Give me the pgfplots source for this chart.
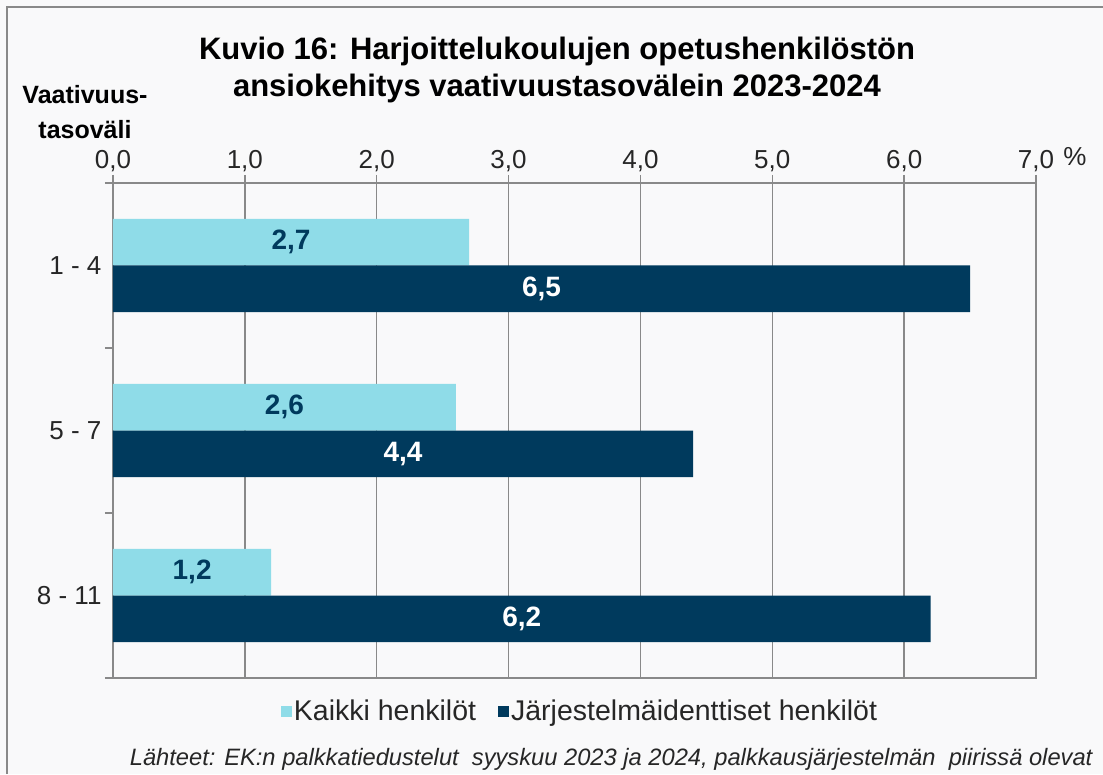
\documentclass[border=0pt]{standalone}
\usepackage{fontspec}
\setmainfont{Liberation Sans}
\usepackage{pgfplots}
\pgfplotsset{compat=1.18}
\definecolor{kaikki}{RGB}{143,220,232}
\definecolor{jarj}{RGB}{0,58,93}
\definecolor{gridc}{RGB}{137,137,137}
\definecolor{bgc}{RGB}{249,249,250}

\begin{document}
\begin{tikzpicture}
\fill[bgc] (-113pt,-96pt) rectangle (990pt,678pt);
\path[use as bounding box] (-113pt,-96pt) rectangle (990pt,678pt);
\draw[gridc, line width=2pt] (-106pt,-96pt) -- (-106pt,671pt) -- (990pt,671pt);
\begin{axis}[
    at={(0pt,0pt)}, anchor=south west,
    scale only axis, width=923pt, height=495pt,
    xbar, bar width=0.282,
    xmin=0, xmax=7, ymin=0, ymax=3,
    xtick={0,1,2,3,4,5,6,7},
    xticklabels={{0,0},{1,0},{2,0},{3,0},{4,0},{5,0},{6,0},{7,0}},
    xtick pos=right, xticklabel pos=right,
    ytick={0,1,2,3}, yticklabels={,,,},
    ytick pos=left,
    extra y ticks={0.5,1.5,2.5},
    extra y tick labels={8 - 11,5 - 7,1 - 4},
    extra y tick style={tick style={draw=none}},
    tick align=outside, major tick length=8pt,
    xmajorgrids, grid style={gridc, line width=1.5pt},
    axis line style={gridc, line width=1.5pt},
    tick style={gridc, line width=1.5pt},
    ticklabel style={font=\fontsize{26}{30}\selectfont, text=black!85},
    point meta=x,
    visualization depends on=rawx \as \rawx,
    nodes near coords={\pgfmathprintnumber[fixed,fixed zerofill,precision=1,use comma,assume math mode=true]{\pgfplotspointmeta}},
    nodes near coords style={anchor=center, font=\bfseries\fontsize{28}{32}\selectfont,
        shift={(axis direction cs:-\rawx/2,0)}},
    legend columns=2,
    legend style={at={(0.506,-0.067)}, anchor=center, draw=none, fill=none,
        font=\fontsize{28.5}{32}\selectfont, text=black!85,
        /tikz/every even column/.append style={column sep=20pt}},
    legend image code/.code={\fill[#1, draw=none] (0pt,-5.5pt) rectangle (11pt,5.5pt);},
]
\addplot[fill=kaikki, draw=none, bar shift=0.141,
    every node near coord/.append style={text=jarj}]
    coordinates {(2.7,2.5) (2.6,1.5) (1.2,0.5)};
\addlegendentry{Kaikki henkilöt}
\addplot[fill=jarj, draw=none, bar shift=-0.141,
    every node near coord/.append style={text=white}]
    coordinates {(6.5,2.5) (4.4,1.5) (6.2,0.5)};
\addlegendentry{Järjestelmäidenttiset henkilöt}
\end{axis}
\node[font=\bfseries\fontsize{31}{37}\selectfont, align=center] at (444pt,608pt)
    {Kuvio 16: Harjoittelukoulujen opetushenkilöstön\\ansiokehitys vaativuustasovälein 2023-2024};
\node[font=\bfseries\fontsize{25}{35}\selectfont, align=center] at (-28pt,566pt)
    {Vaativuus-\\tasoväli};
\node[font=\fontsize{26}{30}\selectfont, anchor=base, text=black!85] at (962pt,512pt) {\%};
\node[font=\itshape\fontsize{23.7}{28}\selectfont, anchor=base east, text=black!85] at (983pt,-87pt)
    {Lähteet: EK:n palkkatiedustelut\ \ syyskuu 2023 ja 2024, palkkausjärjestelmän\ \ piirissä olevat};
\end{tikzpicture}
\end{document}
